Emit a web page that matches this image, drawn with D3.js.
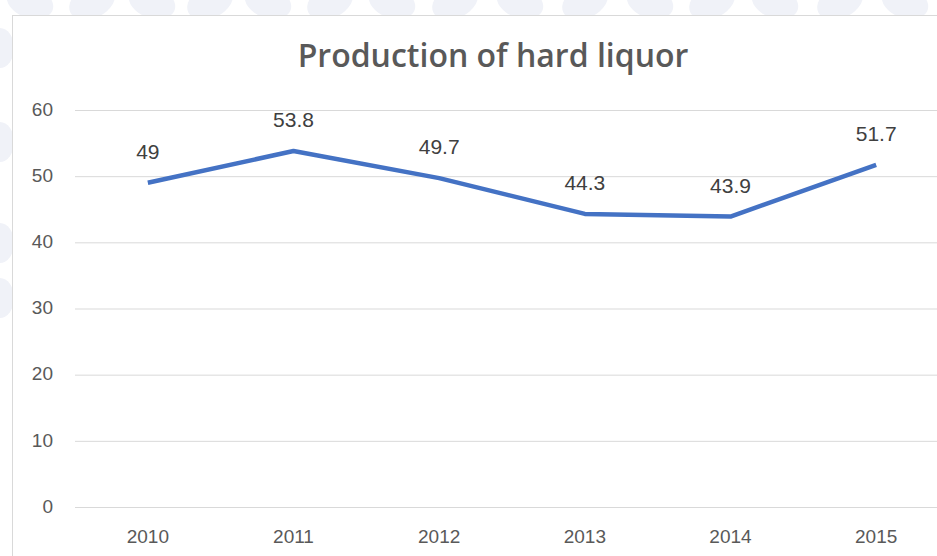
<!DOCTYPE html>
<html>
<head>
<meta charset="utf-8">
<script src="https://cdn.jsdelivr.net/npm/d3@7"></script>
<style>
  html, body { margin: 0; padding: 0; background: #ffffff; }
  svg { display: block; }
</style>
</head>
<body>
<div id="chart"></div>
<script>
// Annual production of hard liquor
const years = ["2010", "2011", "2012", "2013", "2014", "2015"];
const production = [49, 53.8, 49.7, 44.3, 43.9, 51.7];
const yTicks = [0, 10, 20, 30, 40, 50, 60];
const chartTitle = "Production of hard liquor";

const width = 937, height = 556;
const svg = d3.select("#chart").append("svg")
  .attr("width", width).attr("height", height);

// Decorative backdrop blobs around the card edge
const bg = svg.append("g").attr("fill", "#f0f2f8");
const topBlobs = [30, 92, 152, 210, 268, 330, 392, 455, 520, 585, 650, 712, 775, 840, 905];
topBlobs.forEach((cx, i) => {
  bg.append("ellipse")
    .attr("cx", cx).attr("cy", 2)
    .attr("rx", 24).attr("ry", 16)
    .attr("transform", `rotate(${i % 2 ? -25 : 20},${cx},2)`);
});
[48, 142, 243, 298].forEach(cy => {
  bg.append("ellipse").attr("cx", 0).attr("cy", cy).attr("rx", 14).attr("ry", 20);
});

// Chart card
svg.append("rect")
  .attr("x", 12.5).attr("y", 15.5)
  .attr("width", width).attr("height", height)
  .attr("fill", "#ffffff")
  .attr("stroke", "#d9d9d9").attr("stroke-width", 1);

const x = d3.scaleBand().domain(years).range([75, 949]);
const y = d3.scaleLinear().domain([0, 60]).range([507, 110]);

// Horizontal gridlines
svg.append("g")
  .attr("transform", "translate(75,0)")
  .call(d3.axisLeft(y).tickValues(yTicks).tickSize(-874).tickFormat(""))
  .call(g => g.select(".domain").remove())
  .call(g => g.selectAll("line").attr("stroke", "#d9d9d9").attr("stroke-width", 1));

// Y axis labels
svg.append("g")
  .attr("transform", "translate(53,0)")
  .call(d3.axisLeft(y).tickValues(yTicks).tickSize(0).tickPadding(0))
  .call(g => g.select(".domain").remove())
  .call(g => g.selectAll("text")
    .attr("font-family", "'Liberation Sans', Arial, sans-serif")
    .attr("font-size", 19).attr("fill", "#595959").attr("dy", "0.28em"));

// X axis labels
svg.append("g")
  .attr("transform", "translate(0,507)")
  .call(d3.axisBottom(x).tickSize(0).tickPadding(0))
  .call(g => g.select(".domain").remove())
  .call(g => g.selectAll("text")
    .attr("font-family", "'Liberation Sans', Arial, sans-serif")
    .attr("font-size", 19).attr("fill", "#595959")
    .attr("dy", null).attr("y", 36));

// Series line
const line = d3.line()
  .x((d, i) => x(years[i]) + x.bandwidth() / 2)
  .y(d => y(d));

svg.append("path")
  .datum(production)
  .attr("d", line)
  .attr("fill", "none")
  .attr("stroke", "#4472c4")
  .attr("stroke-width", 4.5)
  .attr("stroke-linejoin", "round");

// Data labels
svg.append("g").selectAll("text")
  .data(production)
  .join("text")
  .attr("x", (d, i) => x(years[i]) + x.bandwidth() / 2)
  .attr("y", d => y(d) - 24)
  .attr("text-anchor", "middle")
  .attr("font-family", "'Liberation Sans', Arial, sans-serif")
  .attr("font-size", 21)
  .attr("fill", "#404040")
  .text(d => d);

// Title
svg.append("text")
  .attr("x", 493).attr("y", 67)
  .attr("text-anchor", "middle")
  .attr("font-family", "'Open Sans', sans-serif")
  .attr("font-weight", 600)
  .attr("font-size", 32)
  .attr("fill", "#595959")
  .text(chartTitle);
</script>
</body>
</html>
